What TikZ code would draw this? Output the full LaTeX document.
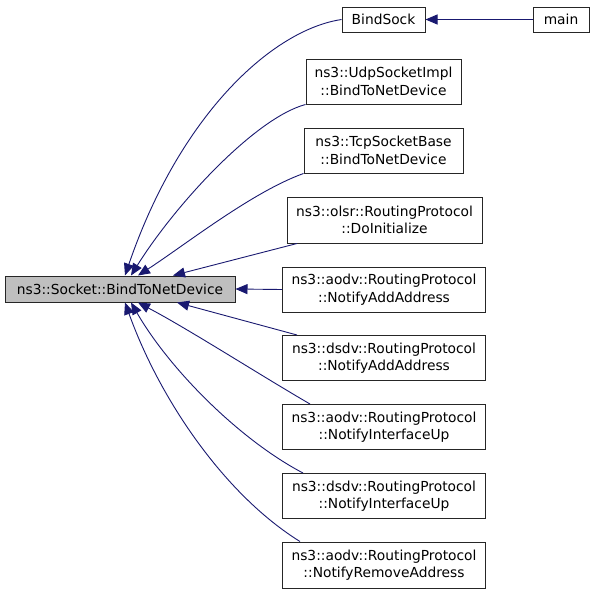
\documentclass[tikz,border=0pt]{standalone}
\usepackage{fontspec}
\setmainfont{DejaVu Sans}
\usetikzlibrary{arrows.meta}
\definecolor{edgeblue}{HTML}{191970}
\begin{document}
\begin{tikzpicture}[x=1pt,y=-1pt,
  box/.style={draw=black!85,fill=white,line width=1pt,inner sep=0pt,align=center,
    font=\fontsize{13.8}{17.5}\selectfont},
  edge/.style={draw=edgeblue,line width=0.9pt,-{Triangle[length=12pt,width=10pt]}}]
\useasboundingbox (0,0) rectangle (595,595);
\node[box,fill=black!25,minimum width=230pt,minimum height=26pt] (sock) at (120,289) {ns3::Socket::BindToNetDevice};
\node[box,minimum width=83pt,minimum height=25pt] (bind) at (383.5,19.5) {BindSock};
\node[box,minimum width=56pt,minimum height=25pt] (main) at (561,19.5) {main};
\node[box,minimum width=155pt,minimum height=45pt] (udp) at (383.5,81.5) {ns3::UdpSocketImpl\\::BindToNetDevice};
\node[box,minimum width=159pt,minimum height=45pt] (tcp) at (383.5,150.5) {ns3::TcpSocketBase\\::BindToNetDevice};
\node[box,minimum width=195pt,minimum height=46pt] (olsr) at (384.5,220) {ns3::olsr::RoutingProtocol\\::DoInitialize};
\node[box,minimum width=203pt,minimum height=45pt] (aadd) at (384,289.5) {ns3::aodv::RoutingProtocol\\::NotifyAddAddress};
\node[box,minimum width=203pt,minimum height=45pt] (dadd) at (384,358) {ns3::dsdv::RoutingProtocol\\::NotifyAddAddress};
\node[box,minimum width=203pt,minimum height=45pt] (aup) at (384,427) {ns3::aodv::RoutingProtocol\\::NotifyInterfaceUp};
\node[box,minimum width=203pt,minimum height=45pt] (dup) at (384,496) {ns3::dsdv::RoutingProtocol\\::NotifyInterfaceUp};
\node[box,minimum width=203pt,minimum height=46pt] (arem) at (384,565) {ns3::aodv::RoutingProtocol\\::NotifyRemoveAddress};
% edges
\draw[edge] (main.west) -- (bind.east);
\draw[edge] (bind.west) .. controls (272,30) and (180,115) .. (sock.north west -| 125,0);
\draw[edge] (udp.south west) .. controls (255,118) and (175,205) .. (sock.north west -| 131,0);
\draw[edge] (tcp.south west) .. controls (252,192) and (185,245) .. (sock.north west -| 138,0);
\draw[edge] (olsr.south west -| 297,0) -- (sock.north west -| 173,0);
\draw[edge] (aadd.west) -- (sock.east);
\draw[edge] (dadd.north west -| 297,0) -- (sock.south west -| 177,0);
\draw[edge] (aup.north west -| 310,0) .. controls (260,375) and (190,330) .. (sock.south west -| 138,0);
\draw[edge] (dup.north west -| 303,0) .. controls (240,440) and (170,370) .. (sock.south west -| 131,0);
\draw[edge] (arem.north west -| 300,0) .. controls (225,495) and (160,400) .. (sock.south west -| 125,0);
\end{tikzpicture}
\end{document}
